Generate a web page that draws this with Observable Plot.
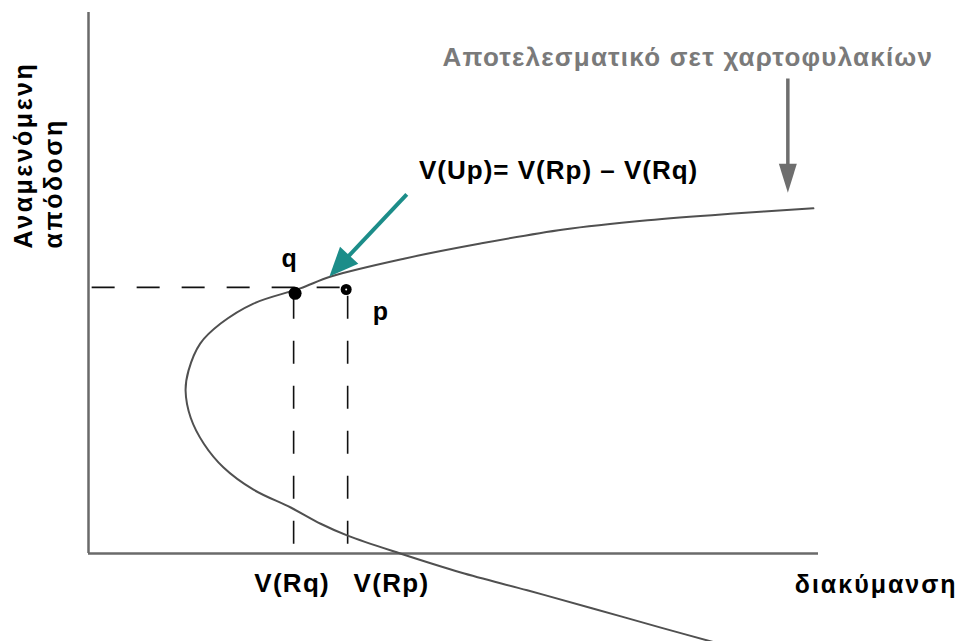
<!DOCTYPE html>
<html>
<head>
<meta charset="utf-8">
<script src="https://cdn.jsdelivr.net/npm/d3@7"></script>
<script src="https://cdn.jsdelivr.net/npm/@observablehq/plot@0.6"></script>
<style>
  html, body { margin: 0; padding: 0; background: #fff; }
  svg { display: block; }
</style>
</head>
<body>
<div id="chart"></div>
<script>
// Efficient frontier (variance on x, expected return on y)
const curveVariance = [9.93, 8.79, 7.66, 6.51, 5.37, 4.32, 3.32, 2.90, 2.26, 1.81, 1.53, 1.37, 1.33, 1.40, 1.58, 1.85, 2.26, 2.77, 3.18, 3.55, 4.27, 5.10, 6.01, 6.92, 7.84, 8.73];
const curveReturn   = [6.38, 6.28, 6.16, 5.99, 5.73, 5.45, 5.12, 4.90, 4.62, 4.25, 3.88, 3.38, 3.01, 2.51, 2.03, 1.59, 1.18, 0.85, 0.55, 0.33, 0.00, -0.35, -0.68, -1.02, -1.37, -1.70];

// Portfolios q and p
const pointNames    = ["q", "p"];
const pointVariance = [2.83, 3.53];
const pointReturn   = [4.81, 4.88];

// Guide lines
const guideReturn = 4.92;
const guideStartVariance = 0.05;
const guideBottom = 0.17;
const guideVariances = [2.81, 3.55];

// Arrows (tail -> tip)
const arrowNames = ["formula", "frontier"];
const arrowX1 = [4.36, 9.58];
const arrowY1 = [6.64, 8.78];
const arrowX2 = [3.30, 9.58];
const arrowY2 = [5.12, 6.67];

// Texts
const title = "Αποτελεσματικό σετ χαρτοφυλακίων";
const formula = "V(Up)= V(Rp) – V(Rq)";
const xLabel = "διακύμανση";
const yLabelLines = ["Αναμενόμενη", "απόδοση"];
const tickLabels = ["V(Rq)", "V(Rp)"];
const tickVariance = [2.79, 4.15];

const curve = curveVariance.map((v, i) => ({v, r: curveReturn[i]}));
const pts = pointNames.map((n, i) => ({n, v: pointVariance[i], r: pointReturn[i]}));
const arrows = arrowNames.map((n, i) => ({n, x1: arrowX1[i], y1: arrowY1[i], x2: arrowX2[i], y2: arrowY2[i]}));

const teal = "#1c8d89";
const grayArrow = "#6e6e6e";
const font = "Liberation Sans, Arial, sans-serif";

const head = (L, W) => ({
  draw(ctx) {
    ctx.moveTo(0, 0);
    ctx.lineTo(W, L);
    ctx.lineTo(-W, L);
    ctx.closePath();
  }
});

const plot = Plot.plot({
  width: 960,
  height: 641,
  margin: 0,
  style: {fontFamily: font, background: "#fff"},
  x: {domain: [0, 10], range: [88, 818], axis: null},
  y: {domain: [0, 10], range: [553, 12], axis: null},
  marks: [
    // dashed guides
    Plot.ruleY([guideReturn], {x1: guideStartVariance, x2: pointVariance[1], stroke: "#111", strokeWidth: 1.6, strokeDasharray: "23,22"}),
    Plot.ruleX(guideVariances, {y1: guideBottom, y2: guideReturn, stroke: "#111", strokeWidth: 1.6, strokeDasharray: "23,22"}),
    // axes
    Plot.ruleX([0], {y1: 0, y2: 10, stroke: "#6a6a6a", strokeWidth: 2.5}),
    Plot.ruleY([0], {x1: 0, x2: 10, stroke: "#6a6a6a", strokeWidth: 2.5}),
    // frontier
    Plot.line(curve, {x: "v", y: "r", curve: "catmull-rom", stroke: "#505050", strokeWidth: 2}),
    // points
    Plot.dot(pts.slice(0, 1), {x: "v", y: "r", r: 6.5, fill: "#000", stroke: "none"}),
    Plot.dot(pts.slice(1), {x: "v", y: "r", r: 5.5, fill: "#000", stroke: "none"}),
    Plot.dot(pts.slice(1), {x: "v", y: "r", r: 1, fill: "#fff", stroke: "none"}),
    // arrows: shafts
    Plot.arrow(arrows.slice(0, 1), {x1: "x1", y1: "y1", x2: "x2", y2: "y2", headLength: 0, insetEnd: 18, stroke: teal, strokeWidth: 4, strokeLinecap: "butt"}),
    Plot.arrow(arrows.slice(1), {x1: "x1", y1: "y1", x2: "x2", y2: "y2", headLength: 0, insetEnd: 20, stroke: grayArrow, strokeWidth: 3.5, strokeLinecap: "butt"}),
    // arrows: heads
    Plot.dot(arrows.slice(0, 1), {x: "x2", y: "y2", symbol: head(29, 12.5), rotate: 223, fill: teal, stroke: "none"}),
    Plot.dot(arrows.slice(1), {x: "x2", y: "y2", symbol: head(29, 9), rotate: 180, fill: grayArrow, stroke: "none"}),
    // texts (order matters for letter spacing below)
    Plot.text([title], {x: 8.21, y: 9.17, text: d => d, fontSize: 26, fontWeight: "bold", fill: "#7a7a7a", textAnchor: "middle"}),
    Plot.text([formula], {x: 6.44, y: 7.08, text: d => d, fontSize: 26, fontWeight: "bold", fill: "#000", textAnchor: "middle"}),
    Plot.text(pts, {x: (d, i) => [2.75, 4.0][i], y: (d, i) => [5.45, 4.47][i], text: "n", fontSize: 25, fontWeight: "bold", fill: "#000", textAnchor: "middle"}),
    Plot.text(tickLabels, {x: (d, i) => tickVariance[i], y: -0.55, text: d => d, fontSize: 26, fontWeight: "bold", fill: "#000", textAnchor: "middle"}),
    Plot.text([xLabel], {x: 10.79, y: -0.59, text: d => d, fontSize: 25, fontWeight: "bold", fill: "#000", textAnchor: "middle"}),
    Plot.text(yLabelLines, {x: (d, i) => [-0.88, -0.47][i], y: 5.64, text: d => d, fontSize: 25, fontWeight: "bold", fill: "#000", textAnchor: "start", rotate: -90})
  ]
});

const spacing = ["1.2px", "1px", "0px", "1.3px", "2px", "2.5px"];
d3.select(plot).selectAll('g[aria-label="text"]').each(function(_, i) {
  d3.select(this).selectAll("text").style("letter-spacing", spacing[i] || "0px");
});
document.getElementById("chart").appendChild(plot);
</script>
</body>
</html>
